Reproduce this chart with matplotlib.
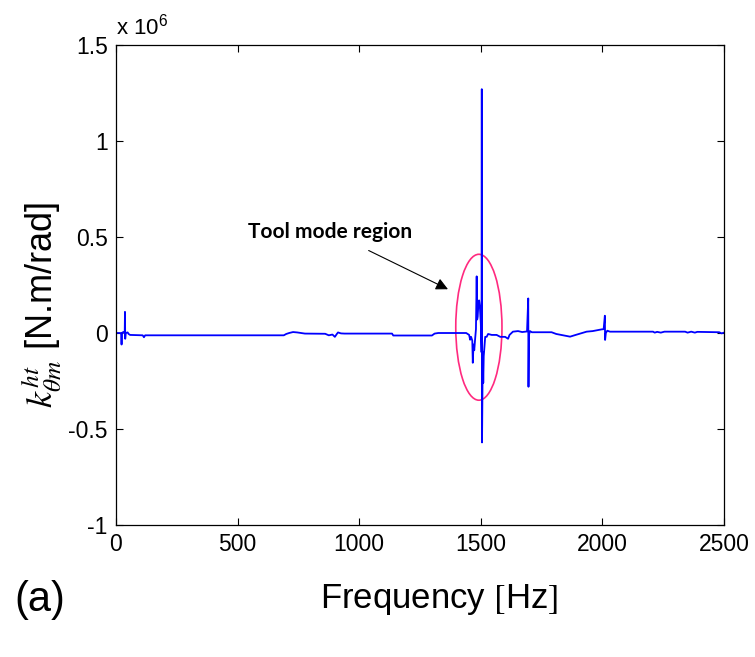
import matplotlib
matplotlib.use("Agg")
import matplotlib.pyplot as plt
from matplotlib.patches import Ellipse

plt.rcParams['font.family'] = ['Liberation Sans', 'DejaVu Sans']
plt.rcParams['mathtext.fontset'] = 'stix'

# Frequency [Hz] and stiffness values [x 1e6 N.m/rad]
freq_hz = [0, 18, 22, 23, 24, 30, 36, 37, 38, 40, 48, 52, 58, 110, 115, 120,
           690, 700, 712, 728, 745, 777, 860, 875, 890, 900, 908, 913, 925, 940,
           1135, 1140, 1299, 1310, 1325, 1340, 1440, 1452, 1456, 1460, 1465,
           1467, 1470, 1473, 1476, 1480, 1483, 1485, 1487, 1490, 1493, 1496,
           1500, 1503, 1504, 1505, 1508, 1510, 1512, 1515, 1518, 1524, 1530,
           1545, 1565, 1580, 1600, 1612, 1618, 1632, 1653, 1670, 1690, 1695,
           1696, 1698, 1702, 1710, 1730, 1791, 1810, 1867, 1890, 1935, 1960,
           1997, 2005, 2010, 2011, 2014, 2020, 2031, 2208, 2215, 2225, 2240,
           2255, 2340, 2350, 2365, 2380, 2390, 2480, 2490, 2500]
kht_1e6 = [0.0, 0.0, -0.005, -0.06, 0.0, 0.005, 0.0, 0.11, -0.03, 0.0, 0.003,
           -0.005, -0.01, -0.012, -0.022, -0.012,
           -0.012, -0.005, 0.0, 0.005, 0.003, -0.003, -0.004, -0.012, -0.008,
           -0.02, -0.005, 0.003, -0.002, -0.003,
           -0.003, -0.013, -0.013, -0.003, 0.0, 0.0, 0.0, -0.01, -0.035, -0.02,
           -0.04, -0.155, -0.06, -0.09, -0.04, 0.02, 0.295, 0.07, 0.085, 0.15,
           0.17, 0.14, 0.05, -0.1, 1.27, -0.57, -0.1, -0.26, -0.12, -0.07,
           -0.02, -0.02, -0.005, -0.01, -0.01, -0.02, -0.02, -0.03, -0.01,
           0.007, 0.01, 0.005, 0.008, 0.18, -0.28, -0.01, 0.01, 0.004, 0.004,
           0.004, -0.005, -0.019, -0.01, 0.007, 0.01, 0.019, 0.02, 0.09,
           -0.036, 0.0, 0.012, 0.007, 0.007, 0.002, 0.006, 0.002, 0.007,
           0.007, 0.002, 0.007, 0.002, 0.006, 0.004, -0.002, 0.002]

x_ticks = [0, 500, 1000, 1500, 2000, 2500]
y_ticks = [-1, -0.5, 0, 0.5, 1, 1.5]
y_tick_labels = ['-1', '-0.5', '0', '0.5', '1', '1.5']

fig = plt.figure(figsize=(7.55, 6.57), dpi=100)
ax = fig.add_axes([0.1536, 0.2009, 0.8054, 0.7306])

ax.plot(freq_hz, kht_1e6, color='#0000ff', linewidth=1.3)

ax.set_xlim(0, 2500)
ax.set_ylim(-1, 1.5)
ax.set_xticks(x_ticks)
ax.set_xticklabels([str(t) for t in x_ticks])
ax.set_yticks(y_ticks)
ax.set_yticklabels(y_tick_labels)
ax.tick_params(direction='in', top=True, right=True, labelsize=16.5, length=5,
               width=0.8, pad=6)
for s in ax.spines.values():
    s.set_linewidth(0.9)

# Multiplier label
ax.text(0.0, 1.012, r'x 10$^{\mathregular{6}}$', transform=ax.transAxes,
        fontsize=16, ha='left', va='bottom')

# Ellipse around tool mode region
ax.add_patch(Ellipse((1492, 0.03), 190, 0.76, fill=False,
                     edgecolor='#ff2a7f', linewidth=1.2))

# Annotation
ax.annotate('Tool mode region', xy=(1365, 0.228), xytext=(880, 0.528),
            fontsize=15, fontweight='bold', family='Lato',
            ha='center', va='center',
            arrowprops=dict(arrowstyle='-|>', color='black', lw=0.8,
                            mutation_scale=18, shrinkA=10, shrinkB=0))

# Y label
fig.text(0.055, 0.536, r'$k^{ht}_{\theta m}$ [N.m/rad]', rotation=90,
         fontsize=26, ha='center', va='center')

# X label and panel tag
fig.text(0.582, 0.087, r'Frequency $\left[\mathregular{Hz}\right]$',
         fontsize=25, ha='center', va='center')
fig.text(0.053, 0.087, '(a)', fontsize=30, ha='center', va='center')

fig.savefig('out.png', dpi=100)
